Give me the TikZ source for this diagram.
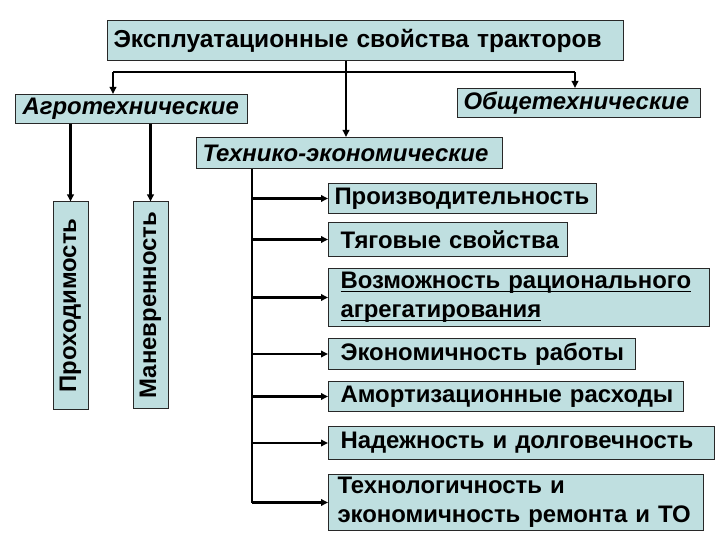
\documentclass[tikz,border=0pt]{standalone}
\usepackage{fontspec}
\setmainfont{Liberation Sans}
\usetikzlibrary{arrows.meta}
\definecolor{boxc}{RGB}{191,223,224}
\definecolor{edgec}{RGB}{40,40,40}
\newcommand\myul[1]{\leavevmode\setbox0\hbox{#1}\rlap{\rule[-3.5bp]{\wd0}{1.6bp}}\box0}
\tikzset{
  bxs/.style={draw=edgec, fill=boxc, line width=1bp, anchor=north west, inner xsep=9bp, inner ysep=0pt,
    align=left, font=\bfseries\fontsize{24}{29}\selectfont},
  itbx/.style={bxs, font=\bfseries\itshape\fontsize{24}{29}\selectfont},
  vbox/.style={draw=edgec, fill=boxc, line width=1bp, inner sep=0pt, rotate=90,
    font=\bfseries\fontsize{24}{29}\selectfont},
  ln/.style={line width=2.5bp, draw=black},
  arr/.style={ln, -{Triangle[length=7bp,width=6.5bp]}}
}
\begin{document}
\begin{tikzpicture}[x=1bp,y=-1bp]
\useasboundingbox (0,0) rectangle (720,540);
\fill[white] (0,0) rectangle (720,540);
% boxes
\node[bxs, font=\bfseries\fontsize{24.6}{29}\selectfont, minimum width=516bp, minimum height=40bp, text width=504bp, inner xsep=6bp] (top) at (107,20) {\mbox{Эксплуатационные свойства тракторов}};
\node[itbx, minimum width=232bp, minimum height=29bp, text width=218bp, inner xsep=7bp] (agro) at (15,94) {\mbox{Агротехнические}};
\node[itbx, minimum width=243bp, minimum height=29bp, text width=231bp, inner xsep=6bp] (obsh) at (457,88) {\mbox{Общетехнические}};
\node[itbx, minimum width=306bp, minimum height=31bp, text width=294bp, inner xsep=6bp] (tech) at (196,137) {\mbox{Технико-экономические}};
\node[vbox, minimum width=207bp, minimum height=35bp] (prov) at (70.5,305.5) {Проходимость};
\node[vbox, minimum width=206bp, minimum height=35bp] (man) at (150.5,305) {Маневренность};
\node[bxs, minimum width=268bp, minimum height=30bp, text width=256bp, inner xsep=6bp] (p1) at (328,183) {\mbox{Производительность}};
\node[bxs, minimum width=239bp, minimum height=34bp, text width=215bp, inner xsep=12bp] (p2) at (328,222) {\mbox{Тяговые свойства}};
\node[bxs, minimum width=381bp, minimum height=58bp, text width=357bp, inner xsep=12bp] (p3) at (328,268) {\myul{Возможность рационального}\\\myul{агрегатирования}};
\node[bxs, minimum width=307bp, minimum height=31bp, text width=283bp, inner xsep=12bp] (p4) at (328,338) {\mbox{Экономичность работы}};
\node[bxs, minimum width=355bp, minimum height=30bp, text width=331bp, inner xsep=12bp] (p5) at (328,381) {\mbox{Амортизационные расходы}};
\node[bxs, minimum width=386bp, minimum height=33bp, text width=362bp, inner xsep=12bp] (p6) at (328,426) {\mbox{Надежность и долговечность}};
\node[bxs, minimum width=375bp, minimum height=56bp, text width=357bp, inner xsep=9bp] (p7) at (328,474) {\mbox{Технологичность и}\\\mbox{экономичность ремонта и ТО}};
% connectors top
\coordinate (j1) at (113,72);
\coordinate (j2) at (575,72);
\coordinate (jc) at (346,72);
\draw[ln] (j1) -- (j2);
\draw[arr] (j1) -- (j1 |- agro.north);
\draw[arr] (j2) -- (j2 |- obsh.north);
\draw[arr] (jc |- top.south) -- (jc |- tech.north);
% agro children
\draw[arr] (prov.east |- agro.south) -- (prov.east);
\draw[arr] (man.east |- agro.south) -- (man.east);
% tech branches
\coordinate (b0) at (252,170);
\draw[ln] (b0 |- tech.south) -- (b0 |- p7.west);
\foreach \n in {p1,p2,p3,p4,p5,p6,p7}{
  \draw[arr] (b0 |- \n.west) -- (\n.west);
}
\end{tikzpicture}
\end{document}
